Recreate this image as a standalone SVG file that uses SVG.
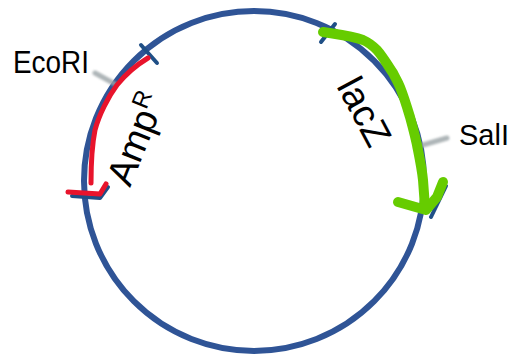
<svg xmlns="http://www.w3.org/2000/svg" width="512" height="357" viewBox="0 0 512 357">
  <style>
    .label { font-family: "Liberation Sans", Arial, sans-serif; fill: #000; }
    .tick { fill: none; stroke: #1F4F86; stroke-width: 4; stroke-linecap: round; stroke-linejoin: round; }
    .smudge { fill: none; stroke: #9aa3a6; stroke-width: 5; stroke-linecap: round; opacity: 0.8; filter: url(#soft); }
  </style>
  <defs>
    <filter id="soft" x="-50%" y="-50%" width="200%" height="200%">
      <feGaussianBlur stdDeviation="1.3"/>
    </filter>
  </defs>
  <rect width="512" height="357" fill="#fff"/>

  <!-- plasmid backbone -->
  <g id="plasmid">
    <circle cx="254" cy="181" r="170" fill="none" stroke="#2F5496" stroke-width="6"/>
  </g>

  <!-- markers on the backbone -->
  <g id="connectors">
    <line class="tick" x1="141" y1="45" x2="157" y2="63"/>
    <line class="tick" x1="335" y1="24" x2="321" y2="42"/>
    <polyline class="tick" points="72,196 100,198 108,187"/>
    <line class="tick" x1="446" y1="186" x2="431" y2="217"/>
    <line class="smudge" x1="95" y1="73" x2="115" y2="84"/>
    <line class="smudge" x1="416" y1="147" x2="447" y2="138"/>
  </g>

  <!-- ampicillin resistance gene -->
  <g id="ampR">
    <path d="M148,58 C138,64 125,75 117,85 C108,97 99,115 95,130 C92,145 91,160 91,183" fill="none" stroke="#E8142C" stroke-width="5" stroke-linecap="round" stroke-linejoin="round"/>
    <polyline points="68,192 100,194 106,184" fill="none" stroke="#E8142C" stroke-width="5" stroke-linecap="round" stroke-linejoin="round"/>
    <text class="label" font-size="38" transform="translate(130,188) rotate(-68)">Amp<tspan font-size="24" dy="-14">R</tspan></text>
  </g>

  <!-- lacZ gene -->
  <g id="lacZ">
    <path d="M323,32 C335,34 352,36 363,40 C370,43 373,46 377,50 C384,58 388,66 393,73 C396,79 398,82 400,87 C404,97 407,107 410,117 C413,128 416,139 418,150 C420,160 422,170 423,180 L425,207" fill="none" stroke="#66CC00" stroke-width="10" stroke-linecap="round" stroke-linejoin="round"/>
    <polyline points="398,202 426,210 437,197 443,182" fill="none" stroke="#66CC00" stroke-width="10" stroke-linecap="round" stroke-linejoin="round"/>
    <text class="label" font-size="38" transform="translate(336,86) rotate(62)">lacZ</text>
  </g>

  <!-- restriction sites -->
  <g id="ecoRI">
    <text class="label" x="13" y="73" font-size="32" textLength="76" lengthAdjust="spacingAndGlyphs">EcoRI</text>
  </g>
  <g id="salI">
    <text class="label" x="459" y="145" font-size="29">SalI</text>
  </g>
</svg>
